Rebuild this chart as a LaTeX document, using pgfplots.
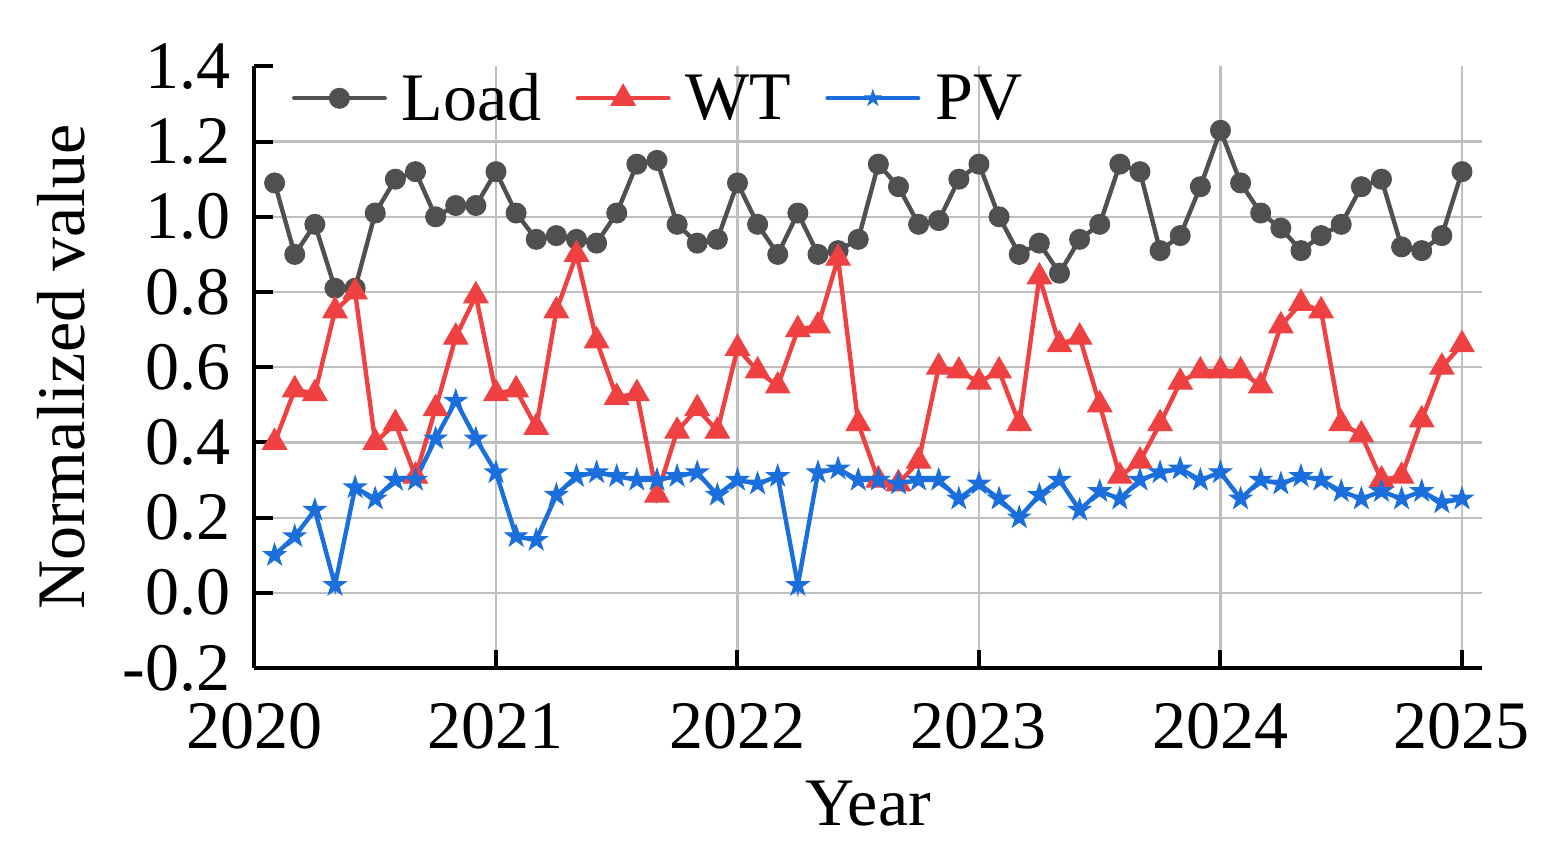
\documentclass[border=0pt]{standalone}
\usepackage{fontspec}
\setmainfont{Liberation Serif}
\usepackage{pgfplots}
\pgfplotsset{compat=1.18}
\usepackage{pgfplotstable}
\definecolor{cLoad}{HTML}{505050}
\definecolor{cWT}{HTML}{EF4141}
\definecolor{cPV}{HTML}{1B6FDC}
\pgfdeclareplotmark{fstar}{%
 \pgfpathmoveto{\pgfpointpolar{90}{\pgfplotmarksize}}%
 \pgfpathlineto{\pgfpointpolar{126}{0.382\pgfplotmarksize}}%
 \pgfpathlineto{\pgfpointpolar{162}{\pgfplotmarksize}}%
 \pgfpathlineto{\pgfpointpolar{198}{0.382\pgfplotmarksize}}%
 \pgfpathlineto{\pgfpointpolar{234}{\pgfplotmarksize}}%
 \pgfpathlineto{\pgfpointpolar{270}{0.382\pgfplotmarksize}}%
 \pgfpathlineto{\pgfpointpolar{306}{\pgfplotmarksize}}%
 \pgfpathlineto{\pgfpointpolar{342}{0.382\pgfplotmarksize}}%
 \pgfpathlineto{\pgfpointpolar{18}{\pgfplotmarksize}}%
 \pgfpathlineto{\pgfpointpolar{54}{0.382\pgfplotmarksize}}%
 \pgfpathclose
 \pgfusepathqfillstroke}
\pgfplotstableread{
k load wt pv
1 1.09 0.40 0.10
2 0.90 0.54 0.15
3 0.98 0.53 0.22
4 0.81 0.75 0.02
5 0.81 0.80 0.28
6 1.01 0.40 0.25
7 1.10 0.45 0.30
8 1.12 0.31 0.30
9 1.00 0.49 0.41
10 1.03 0.68 0.51
11 1.03 0.79 0.41
12 1.12 0.53 0.32
13 1.01 0.54 0.15
14 0.94 0.44 0.14
15 0.95 0.75 0.26
16 0.94 0.90 0.31
17 0.93 0.67 0.32
18 1.01 0.52 0.31
19 1.14 0.53 0.30
20 1.15 0.26 0.30
21 0.98 0.43 0.31
22 0.93 0.49 0.32
23 0.94 0.43 0.26
24 1.09 0.65 0.30
25 0.98 0.59 0.29
26 0.90 0.55 0.31
27 1.01 0.70 0.02
28 0.90 0.71 0.32
29 0.91 0.89 0.33
30 0.94 0.45 0.30
31 1.14 0.30 0.30
32 1.08 0.29 0.29
33 0.98 0.35 0.30
34 0.99 0.60 0.30
35 1.10 0.59 0.25
36 1.14 0.56 0.29
37 1.00 0.59 0.25
38 0.90 0.45 0.20
39 0.93 0.84 0.26
40 0.85 0.66 0.30
41 0.94 0.68 0.22
42 0.98 0.50 0.27
43 1.14 0.31 0.25
44 1.12 0.35 0.30
45 0.91 0.45 0.32
46 0.95 0.56 0.33
47 1.08 0.59 0.30
48 1.23 0.59 0.32
49 1.09 0.59 0.25
50 1.01 0.55 0.30
51 0.97 0.71 0.29
52 0.91 0.77 0.31
53 0.95 0.75 0.30
54 0.98 0.45 0.27
55 1.08 0.42 0.25
56 1.10 0.30 0.27
57 0.92 0.31 0.25
58 0.91 0.46 0.27
59 0.95 0.60 0.24
60 1.12 0.66 0.25
}\data
\begin{document}
\begin{tikzpicture}[font=\fontsize{34}{40}\selectfont]
\begin{axis}[
  scale only axis, width=613.8pt, height=300.8pt,
  xmin=0, xmax=61, ymin=-0.2, ymax=1.4,
  axis x line*=bottom, axis y line*=left,
  axis line style={line width=2pt, -},
  xtick={0,12,24,36,48,60},
  xticklabels={2020,2021,2022,2023,2024,2025},
  ytick={-0.2,0,0.2,0.4,0.6,0.8,1.0,1.2},
  yticklabels={-0.2,0.0,0.2,0.4,0.6,0.8,1.0,1.2},
  extra y ticks={1.4}, extra y tick labels={1.4},
  extra y tick style={grid=none},
  tick align=inside, major tick length=9pt,
  tick style={black, line width=2pt},
  grid=major, major grid style={line width=1.1pt, color=black!25},
  xticklabel style={anchor=base, yshift=-40pt},
  yticklabel style={anchor=east, inner xsep=0pt, xshift=-11.75pt},
  xlabel={Year}, ylabel={Normalized value},
  xlabel style={at={(axis description cs:0.5,-0.2626)}, anchor=base},
  ylabel style={at={(axis description cs:-0.1388,0.5)}, anchor=base},
  legend style={at={(axis description cs:0.0305,0.947)}, anchor=west,
    draw=none, fill=none, inner sep=0pt, outer sep=0pt,
    legend columns=-1, nodes={inner sep=0pt},
    /tikz/every odd column/.append style={column sep=7.5pt},
    /tikz/every even column/.append style={column sep=17pt}},
  legend image code/.code={\draw[mark repeat=2, mark phase=2, line cap=round]
    plot coordinates {(1.1pt,0pt) (23.75pt,0pt) (46.4pt,0pt)};},
]
\addplot[cLoad, line width=2.2pt, mark=*, mark size=5pt,
  mark options={solid, fill=cLoad, line width=0.5pt}] table[x=k, y=load]{\data};
\addlegendentry{Load}
\addplot[cWT, line width=2.2pt, mark=triangle*, mark size=7pt,
  mark options={solid, fill=cWT, line width=0.5pt}] table[x=k, y=wt]{\data};
\addlegendentry{WT}
\addplot[cPV, line width=2.2pt, mark=fstar, mark size=5.8pt,
  mark options={solid, fill=cPV, line width=0.5pt},
  legend image code/.code={\draw[mark repeat=2, mark phase=2, line cap=round, mark size=4pt]
    plot coordinates {(1.1pt,0pt) (23.75pt,0pt) (46.4pt,0pt)};}] table[x=k, y=pv]{\data};
\addlegendentry{PV}
\end{axis}
\pgfresetboundingbox
\path (-127.25pt,-97pt) rectangle (654.25pt,334pt);
\end{tikzpicture}
\end{document}
